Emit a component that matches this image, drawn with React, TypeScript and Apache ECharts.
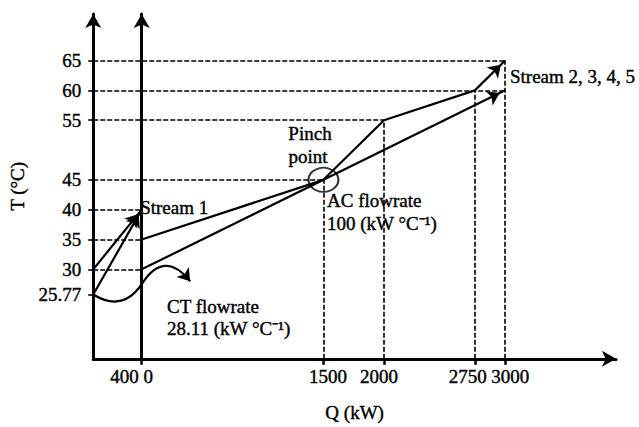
import React, { useEffect, useRef } from "react";
import * as echarts from "echarts";

const FONT = '"Liberation Serif", "Times New Roman", serif';

// Axis ticks and labels
const yTickValues = [25.77, 30, 35, 40, 45, 55, 60, 65];
const xTickValues = [0, 1500, 2000, 2750, 3000];
const xTickTexts = ["400 0", "1500", "2000", "2750", "3000"];

// Hot composite curve (Q in kW, T in °C)
const hotQ = [0, 1500, 2000, 2750, 3000];
const hotT = [35, 45, 55, 60, 65];
// Cold composite curve
const coldQ = [0, 3000];
const coldT = [30, 60];
// Stream 1 (left section, Q from -400 to 0)
const stream1Q = [-400, 0];
const stream1TUpper = [30, 40];
const stream1TLower = [25.77, 40];
// CT flowrate wave (start, crossing, end)
const waveQ = [-400, 0, 400];
const waveT = [25.77, 27.5, 28];
// Pinch point
const pinchQ = 1500;
const pinchT = 45;
// Guide lines: horizontal [T, Q end], vertical [Q, T end]
const hGuides = [
  [65, 3000],
  [60, 3000],
  [55, 2000],
  [45, 1500],
  [40, 0],
  [35, 0],
  [30, 0],
];
const vGuides = [
  [1500, 45],
  [2000, 55],
  [2750, 60],
  [3000, 65],
];

const X_MIN = -400;
const X_MAX = 3915;
const Y_MIN = 15;
const Y_MAX = 72.8;

export default function App() {
  const ref = useRef<HTMLDivElement>(null);

  useEffect(() => {
    document.body.style.margin = "0";
    if (!ref.current) return;
    const chart = echarts.init(ref.current, undefined, { renderer: "svg" });

    const black = "#000";
    const baseText = {
      fontFamily: FONT,
      fontSize: 19,
      color: black,
      textBorderColor: black,
      textBorderWidth: 0.4,
    };
    const gText = (text: string, extra: any = {}) => ({
      text,
      font: `19px ${FONT}`,
      fill: black,
      stroke: black,
      lineWidth: 0.4,
      ...extra,
    });

    const hotSegs = hotQ.slice(0, -1).map((q, i) => [
      [q, hotT[i]],
      [hotQ[i + 1], hotT[i + 1]],
    ]);
    const hotPlain = hotSegs.slice(0, -1);
    const hotLast = hotSegs[hotSegs.length - 1];

    const xShift: Record<string, string> = {
      "400 0": "a",
      "1500": "b",
      "2000": "c",
      "2750": "d",
      "3000": "e",
    };

    const seg = (p: number[][]) => [{ coord: p[0] }, { coord: p[1] }];

    const option: any = {
      animation: false,
      grid: { left: 83, right: 23, top: 14, bottom: 65 },
      xAxis: {
        type: "value",
        min: X_MIN,
        max: X_MAX,
        name: "Q (kW)",
        nameLocation: "middle",
        nameGap: 44,
        nameTextStyle: { ...baseText },
        axisLine: {
          onZero: false,
          symbol: ["none", "arrow"],
          symbolSize: [12, 14],
          lineStyle: { color: black, width: 3 },
        },
        axisTick: {
          show: true,
          customValues: xTickValues,
          length: 6,
          lineStyle: { color: black, width: 2.5 },
        },
        axisLabel: {
          customValues: xTickValues,
          margin: 8,
          ...baseText,
          formatter: (v: number) => {
            const i = xTickValues.indexOf(v);
            const t = i >= 0 ? xTickTexts[i] : "";
            return `{${xShift[t] || "b"}|${t}}`;
          },
          rich: {
            a: { ...baseText, padding: [0, 20, 0, 0] },
            b: { ...baseText, padding: [0, 0, 0, 9] },
            c: { ...baseText, padding: [0, 10, 0, 0] },
            d: { ...baseText, padding: [0, 14, 0, 0] },
            e: { ...baseText, padding: [0, 0, 0, 10] },
          },
        },
        splitLine: { show: false },
      },
      yAxis: [
        {
          type: "value",
          min: Y_MIN,
          max: Y_MAX,
          position: "left",
          name: "T (°C)",
          nameLocation: "middle",
          nameRotate: 90,
          nameGap: 57,
          nameTextStyle: { ...baseText },
          axisLine: {
            show: true,
            onZero: false,
            symbol: ["none", "arrow"],
            symbolSize: [12, 14],
            lineStyle: { color: black, width: 3 },
          },
          axisTick: {
            show: true,
            customValues: yTickValues,
            length: 5,
            lineStyle: { color: black, width: 1.6 },
          },
          axisLabel: {
            customValues: yTickValues,
            margin: 12,
            ...baseText,
            formatter: (v: number) => String(v),
          },
          splitLine: { show: false },
        },
        {
          type: "value",
          min: Y_MIN,
          max: Y_MAX,
          axisLine: {
            show: true,
            onZero: true,
            symbol: ["none", "arrow"],
            symbolSize: [12, 14],
            lineStyle: { color: black, width: 3 },
          },
          axisTick: { show: false },
          axisLabel: { show: false },
          splitLine: { show: false },
        },
      ],
      series: [
        {
          name: "guides",
          type: "lines",
          coordinateSystem: "cartesian2d",
          silent: true,
          symbol: "none",
          lineStyle: { color: black, width: 1.6, type: [5, 2], opacity: 1 },
          data: [
            ...hGuides.map(([t, q]) => ({ coords: [[X_MIN, t], [q, t]] })),
            ...vGuides.map(([q, t]) => ({ coords: [[q, Y_MIN], [q, t]] })),
          ],
        },
        {
          name: "curves",
          type: "lines",
          coordinateSystem: "cartesian2d",
          silent: true,
          symbol: "none",
          lineStyle: { color: black, width: 2.2, opacity: 1 },
          data: [
            ...hotPlain.map((c) => ({ coords: c })),
            {
              coords: [
                [waveQ[0], waveT[0]],
                [waveQ[1], waveT[1]],
              ],
              lineStyle: { curveness: -0.48 },
            },
          ],
        },
        {
          name: "wave",
          type: "lines",
          coordinateSystem: "cartesian2d",
          silent: true,
          symbol: ["none", "arrow"],
          symbolSize: 12,
          lineStyle: { color: black, width: 2.2, opacity: 1 },
          data: [
            {
              coords: [
                [waveQ[1], waveT[1]],
                [waveQ[2], waveT[2]],
              ],
              lineStyle: { curveness: 0.7 },
            },
          ],
        },
        {
          name: "pinch",
          type: "scatter",
          silent: true,
          symbol: "circle",
          symbolSize: [30, 24],
          itemStyle: { color: "rgba(0,0,0,0)", borderColor: black, borderWidth: 2 },
          data: [[pinchQ, pinchT]],
          z: 5,
          markLine: {
            silent: true,
            animation: false,
            symbol: ["none", "arrow"],
            symbolSize: 12,
            symbolOffset: [0, [0, 6]],
            label: { show: false },
            emphasis: { disabled: true },
            lineStyle: { color: black, width: 2.2, type: "solid", opacity: 1 },
            data: [
              seg(hotLast),
              seg([
                [coldQ[0], coldT[0]],
                [coldQ[1], coldT[1]],
              ]),
              seg([
                [stream1Q[0], stream1TUpper[0]],
                [stream1Q[1], stream1TUpper[1]],
              ]),
              seg([
                [stream1Q[0], stream1TLower[0]],
                [stream1Q[1], stream1TLower[1]],
              ]),
            ],
          },
        },
      ],
      graphic: [
        { type: "text", left: 140, top: 198, style: gText("Stream 1") },
        { type: "text", x: 310, y: 133, style: gText("Pinch", { align: "center", verticalAlign: "middle" }) },
        { type: "text", x: 308, y: 156, style: gText("point", { align: "center", verticalAlign: "middle" }) },
        { type: "text", x: 327, y: 200, style: gText("AC flowrate", { verticalAlign: "middle" }) },
        { type: "text", x: 327, y: 223, style: gText("100 (kW °C⁻¹)", { verticalAlign: "middle" }) },
        { type: "text", x: 167, y: 306, style: gText("CT flowrate", { verticalAlign: "middle" }) },
        { type: "text", x: 167, y: 328, style: gText("28.11 (kW °C⁻¹)", { verticalAlign: "middle" }) },
        { type: "text", x: 510, y: 76, style: gText("Stream 2, 3, 4, 5", { verticalAlign: "middle" }) },
      ],
    };

    chart.setOption(option);
    return () => chart.dispose();
  }, []);

  return <div ref={ref} style={{ width: 639, height: 427 }} />;
}
